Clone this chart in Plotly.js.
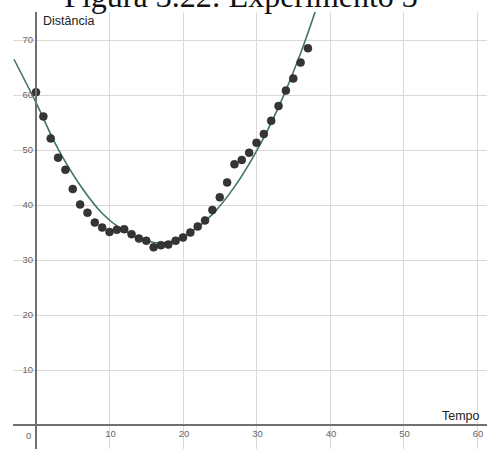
<!DOCTYPE html>
<html>
<head>
<meta charset="utf-8">
<script src="https://cdn.plot.ly/plotly-3.0.1.min.js"></script>
<style>html,body{margin:0;padding:0;background:#fff;}#chart{width:487px;height:449px;}</style>
</head>
<body>
<div id="chart"></div>
<script>
// Observed data (Tempo, Distância)
const tempo = [0,1,2,3,4,5,6,7,8,9,10,11,12,13,14,15,16,17,18,19,20,21,22,23,24,25,26,27,28,29,30,31,32,33,34,35,36,37];
const distancia = [60.5,56.1,52.1,48.6,46.4,42.9,40.1,38.6,36.8,35.9,35.1,35.5,35.6,34.7,33.9,33.5,32.3,32.7,32.8,33.5,34.1,35.0,36.1,37.2,39.1,41.4,44.1,47.4,48.2,49.5,51.3,52.9,55.3,58.0,60.8,63.0,65.9,68.5];

// Fitted curve
const ajusteX = [-3,0,3,6,9,12,15,17,19,21,24,27,30,33,36,38.2];
const ajusteY = [66.5,58.6,50.2,43.6,38.5,35.3,33.5,33.1,33.6,35.0,38.3,43.3,49.8,57.8,67.6,76.0];

const xTicks = [10,20,30,40,50,60];
const yTicks = [10,20,30,40,50,60,70];

const titulo = 'Figura 3.22: Experimento 3';
const rotuloY = 'Distância';
const rotuloX = 'Tempo';

const traces = [
  {x: ajusteX, y: ajusteY, type: 'scatter', mode: 'lines',
   line: {color: '#3f7566', width: 1.6, shape: 'spline', smoothing: 1.0},
   hoverinfo: 'skip', showlegend: false},
  {x: tempo, y: distancia, type: 'scatter', mode: 'markers',
   marker: {color: '#353535', size: 8, line: {color: '#222', width: 0.5}},
   showlegend: false}
];

const layout = {
  width: 487, height: 449,
  margin: {l: 13, r: 0, t: 12, b: 0, pad: 0},
  paper_bgcolor: '#ffffff', plot_bgcolor: '#ffffff',
  showlegend: false,
  title: {text: titulo, font: {family: 'Liberation Serif', size: 32, color: '#111'},
          x: 241/487, xanchor: 'center', xref: 'container',
          y: 1 - 7/449, yref: 'container', yanchor: 'bottom'},
  xaxis: {range: [-3.13, 61.36], anchor: 'free', position: 0.0549,
          tickvals: xTicks, ticks: '', ticklabelshift: 1,
          showgrid: true, gridcolor: '#d9d9d9', gridwidth: 1,
          zeroline: false, showline: true, linecolor: '#707070', linewidth: 2,
          tickfont: {family: 'Liberation Sans', size: 9.5, color: '#666'}},
  yaxis: {range: [-4.36, 75.09], anchor: 'free', position: 0.0485,
          tickvals: yTicks, ticks: '',
          showgrid: true, gridcolor: '#d9d9d9', gridwidth: 1,
          zeroline: false, showline: true, linecolor: '#707070', linewidth: 2,
          tickfont: {family: 'Liberation Sans', size: 9.5, color: '#666'}},
  annotations: [
    {x: 0, y: 0, xref: 'x', yref: 'y', text: '0', showarrow: false,
     xanchor: 'center', yanchor: 'middle', xshift: -8, yshift: -10,
     font: {family: 'Liberation Sans', size: 9.5, color: '#666'}},
    {x: 0.68, y: 73.5, xref: 'x', yref: 'y', text: rotuloY, showarrow: false,
     xanchor: 'left', yanchor: 'middle',
     font: {family: 'Liberation Sans', size: 12.5, color: '#222'}},
    {x: 60.7, y: 1.6, xref: 'x', yref: 'y', text: rotuloX, showarrow: false,
     xanchor: 'right', yanchor: 'middle',
     font: {family: 'Liberation Sans', size: 12.5, color: '#222'}}
  ]
};

Plotly.newPlot('chart', traces, layout, {staticPlot: true, displayModeBar: false});
</script>
</body>
</html>
